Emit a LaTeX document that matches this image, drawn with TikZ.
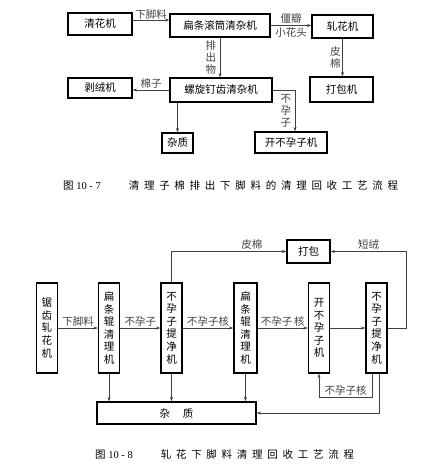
\documentclass[tikz,border=0pt]{standalone}
\usepackage{fontspec}
\setmainfont{Liberation Serif}
\newfontfamily\cjk{Noto Sans CJK SC}
\newfontfamily\cjkcap[LetterSpace=45]{Noto Sans CJK SC}
\usetikzlibrary{arrows.meta,positioning}

\begin{document}
\begin{tikzpicture}[
    x=1pt, y=-1pt,
    >={Stealth[length=4.5pt,width=3pt]},
    box/.style={draw, line width=1.1pt, inner sep=0pt, font=\cjk\fontsize{10.5}{12.6}\selectfont},
    vbox/.style={box, minimum width=21pt, minimum height=90pt, text width=11pt, align=center},
    flow/.style={->, line width=0.6pt, black!75},
    lbl/.style={font=\cjk\fontsize{10.5}{12}\selectfont, inner sep=1.5pt},
    vlbl/.style={lbl, align=center},
    caption/.style={anchor=west, inner sep=0pt, font=\fontsize{10.5}{12}\selectfont},
  ]
  \useasboundingbox (0,0) rectangle (437,474);

  % ========= FIG 10-7 =========
  \node[box, minimum width=64pt, minimum height=22pt] (qinghua) at (100,24) {清花机};
  \node[box, minimum width=100pt, minimum height=23pt] (biantiao) at (220,25.5) {扁条滚筒清杂机};
  \node[box, minimum width=61pt, minimum height=23pt] (zhahua) at (342.5,26.5) {轧花机};
  \node[box, minimum width=102pt, minimum height=24pt] (luoxuan) at (221,90) {螺旋钉齿清杂机};
  \node[box, minimum width=64pt, minimum height=20pt] (borong) at (100,88) {剥绒机};
  \node[box, minimum width=63pt, minimum height=25pt] (dabao) at (341.5,89.5) {打包机};
  \node[box, minimum width=31pt, minimum height=20pt] (zazhi) at (177.5,143) {杂质};
  \node[box, minimum width=72pt, minimum height=21pt] (kaibuyun) at (291,142.5) {开不孕子机};

  \draw[flow] ([yshift=4pt]qinghua.east) -- ([yshift=5.5pt]biantiao.west)
    node[lbl, midway, above=-1pt] {下脚料};
  \draw[flow] (biantiao.east) -- (zhahua.west |- biantiao.east)
    node[lbl, midway, above] {僵瓣}
    node[lbl, midway, below] {小花头};
  \draw[flow] (zhahua.south) -- (zhahua.south |- dabao.north)
    node[vlbl, midway, left] {皮\\棉};
  \draw[flow] (biantiao.south) -- (biantiao.south |- luoxuan.north)
    node[vlbl, midway, left=2pt] {排\\出\\物};
  \draw[flow] (luoxuan.west) -- (borong.east |- luoxuan.west)
    node[lbl, midway, above] {棉子};
  \draw[flow] (zazhi.north |- luoxuan.south) -- (zazhi.north);
  \draw[flow] (luoxuan.east) -| ([xshift=4pt]kaibuyun.north)
    node[vlbl, pos=0.75, left=2pt] {不\\孕\\子};

  \node[caption] (cap1) at (63,185) {{\cjk 图}\ 10\ -\ 7\hspace{28pt}{\cjkcap 清理子棉排出下脚料的清理回收工艺流程}};

  % ========= FIG 10-8 =========
  \node[vbox] (juchi) at (47,328) {锯\\齿\\轧\\花\\机};
  \node[vbox] (bt1) at (109,328) {扁\\条\\辊\\清\\理\\机};
  \node[vbox] (tj1) at (171.5,328) {不\\孕\\子\\提\\净\\机};
  \node[vbox, minimum width=23pt] (bt2) at (245.5,328) {扁\\条\\辊\\清\\理\\机};
  \node[vbox] (kbz) at (319,328) {开\\不\\孕\\子\\机};
  \node[vbox] (tj2) at (376.5,328) {不\\孕\\子\\提\\净\\机};
  \node[box, minimum width=43pt, minimum height=23pt] (dabao2) at (308.5,251.5) {打包};
  \node[box, minimum width=159pt, minimum height=22pt] (zazhi2) at (176.5,413) {杂\hspace{1.2em}质};

  \draw[flow] (juchi.east) -- (bt1.west) node[lbl, midway, above] {下脚料};
  \draw[flow] (bt1.east) -- (tj1.west) node[lbl, midway, above] {不孕子};
  \draw[flow] (tj1.east) -- (bt2.west) node[lbl, midway, above] {不孕子核};
  \draw[flow] (bt2.east) -- (kbz.west) node[lbl, midway, above] {不孕子\,核};
  \draw[flow] (kbz.east) -- (tj2.west);

  \draw[flow] (tj1.north) |- node[lbl, pos=0.85, above] {皮棉} (dabao2.west);
  \draw[flow] (tj2.east) -- ++(19,0) |- node[lbl, pos=0.75, above] {短绒} (dabao2.east);

  \draw[flow] (bt1.south) -- (bt1.south |- zazhi2.north);
  \draw[flow] (tj1.south) -- (tj1.south |- zazhi2.north);
  \draw[flow] (bt2.south) -- (bt2.south |- zazhi2.north);
  \draw[flow] ([xshift=2.5pt]tj2.south) |- (zazhi2.east);
  \draw[flow] ([xshift=-4.5pt]tj2.south) -- ++(0,24) -| (kbz.south)
    node[lbl, pos=0.25, above] {不孕子核};

  \node[caption] (cap2) at (95,455) {{\cjk 图}\ 10\ -\ 8\hspace{28pt}{\cjkcap 轧花下脚料清理回收工艺流程}};
\end{tikzpicture}
\end{document}
